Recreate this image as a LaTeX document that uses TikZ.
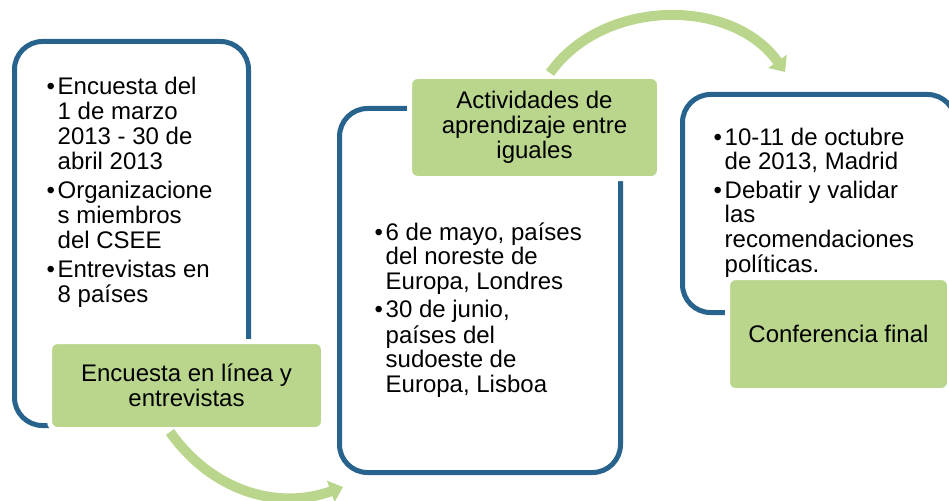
\documentclass[tikz,border=0pt]{standalone}
\usepackage{fontspec}
\setmainfont{Liberation Sans}
\usetikzlibrary{arrows.meta}
\definecolor{panelblue}{RGB}{39,99,140}
\definecolor{stepgreen}{RGB}{185,214,140}
\tikzset{
  panelframe/.style={draw=panelblue, line width=5pt, rounded corners=28pt, inner sep=0pt, outer sep=0pt},
  greenbox/.style={fill=stepgreen, draw=white, line width=5pt, rounded corners=8pt, align=center, inner sep=0pt, outer sep=0pt},
  bullets/.style={anchor=base west, inner sep=0pt},
  flow/.style={draw=stepgreen, line width=10pt, -{Triangle[width=22pt,length=13pt]}}
}
\newcommand{\bul}{\makebox[12pt][l]{\hspace{1pt}\textbullet}}
\begin{document}
\begin{tikzpicture}[x=1pt,y=-1pt,font=\fontsize{24pt}{24.8pt}\selectfont]
  \useasboundingbox (0,0) rectangle (949,500);
  \begin{scope}
  \clip (0,0) rectangle (949,500);

  % Drawing panel frames
  \node[panelframe, minimum width=234pt, minimum height=384pt] (f1) at (131.5,233.5) {};
  \node[panelframe, minimum width=281pt, minimum height=364pt] (f2) at (480,290.5) {};
  \node[panelframe, minimum width=273pt, minimum height=218pt] (f3) at (819,203.5) {};

  % Bullet texts of the panels
  \node[bullets] (t1) at (45.5,95) {\begin{tabular}[t]{@{}l@{}l@{}}
    \bul & Encuesta del\\
         & 1 de marzo\\
         & 2013 - 30 de\\
         & abril 2013\\[4.5pt]
    \bul & Organizacione\\
         & s miembros\\
         & del CSEE\\[4.5pt]
    \bul & Entrevistas en\\
         & 8 países
  \end{tabular}};
  \node[bullets] (t2) at (373.5,240) {\begin{tabular}[t]{@{}l@{}l@{}}
    \bul & 6 de mayo, países\\
         & del noreste de\\
         & Europa, Londres\\[3.5pt]
    \bul & 30 de junio,\\
         & países del\\
         & sudoeste de\\
         & Europa, Lisboa
  \end{tabular}};
  \node[bullets] (t3) at (712.5,145) {\begin{tabular}[t]{@{}l@{}l@{}}
    \bul & 10-11 de octubre\\
         & de 2013, Madrid\\[3.5pt]
    \bul & Debatir y validar\\
         & las\\
         & recomendaciones\\
         & políticas.
  \end{tabular}};

  % Drawing green title boxes
  \node[greenbox, minimum width=274pt, minimum height=88pt] (g1) at (186.5,385.5) {Encuesta en línea y\\entrevistas};
  \node[greenbox, minimum width=250pt, minimum height=102pt] (g2) at (534.5,127.5) {Actividades de\\aprendizaje entre\\iguales};
  \node[greenbox, minimum width=222pt, minimum height=113pt] (g3) at (838.5,334) {Conferencia final};

  % Drawing curved arrows
  \coordinate (a1s) at (170,432);
  \coordinate (a1e) at (343,487);
  \draw[flow] (a1s) .. controls (211,490) and (276,511) .. (a1e);
  \coordinate (a2s) at (550,73);
  \coordinate (a2e) at (785,72);
  \draw[flow] (a2s) .. controls (603,-2) and (732,-3) .. (a2e);
  \end{scope}
\end{tikzpicture}
\end{document}
